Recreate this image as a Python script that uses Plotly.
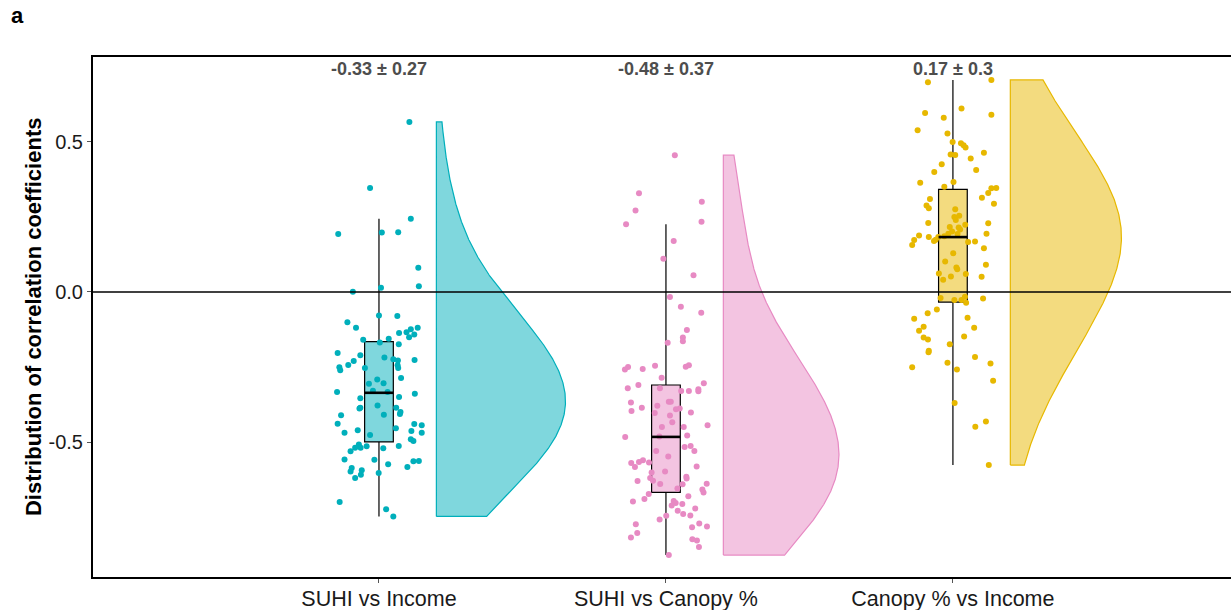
import numpy as np
import plotly.graph_objects as go

# ---- data -------------------------------------------------------------
categories = ["SUHI vs Income", "SUHI vs Canopy %", "Canopy % vs Income"]
summary_labels = ["-0.33 ± 0.27", "-0.48 ± 0.37", "0.17 ± 0.3"]

suhi_income = [
    0.567, 0.347, 0.193, 0.198, 0.199, 0.244, 0.081, 0.019, 0.014, 0.001,
    -0.078, -0.080, -0.101, -0.119, -0.119, -0.124, -0.137, -0.134, -0.142, -0.151,
    -0.159, -0.168, -0.156, -0.174, -0.203, -0.211, -0.218, -0.224, -0.228, -0.227,
    -0.230, -0.243, -0.251, -0.261, -0.253, -0.244, -0.253, -0.287, -0.292, -0.306,
    -0.304, -0.333, -0.329, -0.333, -0.339, -0.350, -0.354, -0.378, -0.386, -0.388,
    -0.386, -0.400, -0.407, -0.409, -0.411, -0.439, -0.440, -0.444, -0.454, -0.461,
    -0.463, -0.469, -0.469, -0.477, -0.491, -0.497, -0.513, -0.514, -0.508, -0.519,
    -0.519, -0.521, -0.531, -0.558, -0.559, -0.563, -0.564, -0.574, -0.583, -0.587,
    -0.598, -0.594, -0.609, -0.620, -0.603, -0.700, -0.724, -0.748,
]
jitter_income = [
    0.106, -0.031, -0.142, 0.010, 0.067, 0.111, 0.137, 0.139, 0.007, -0.091,
    0.000, 0.064, -0.110, -0.080, 0.135, 0.111, 0.070, 0.096, 0.123, 0.105,
    -0.055, 0.003, 0.034, 0.069, -0.144, -0.065, 0.019, 0.050, 0.066, 0.124,
    -0.088, -0.107, -0.138, -0.135, -0.049, 0.065, 0.067, 0.077, -0.006, -0.035,
    0.016, -0.146, -0.021, 0.030, 0.125, 0.070, -0.065, -0.005, -0.065, -0.068,
    0.060, 0.075, 0.073, 0.017, -0.132, -0.144, 0.123, 0.149, 0.059, -0.074,
    0.113, -0.120, 0.149, -0.031, 0.111, 0.120, 0.069, -0.043, -0.070, -0.064,
    -0.083, 0.015, -0.099, -0.120, -0.016, 0.139, 0.120, 0.032, 0.099, -0.095,
    -0.099, -0.060, -0.063, -0.083, -0.001, -0.137, 0.025, 0.050,
]

suhi_canopy = [
    0.456, 0.329, 0.301, 0.272, 0.226, 0.234, 0.170, 0.111, 0.056, -0.017,
    -0.049, -0.069, -0.127, -0.152, -0.164, -0.169, -0.250, -0.258, -0.257, -0.246,
    -0.249, -0.244, -0.286, -0.321, -0.310, -0.321, -0.330, -0.330, -0.324, -0.331,
    -0.304, -0.368, -0.366, -0.366, -0.379, -0.386, -0.388, -0.391, -0.397, -0.403,
    -0.402, -0.412, -0.434, -0.444, -0.450, -0.450, -0.478, -0.483, -0.482, -0.517,
    -0.513, -0.530, -0.530, -0.548, -0.561, -0.567, -0.570, -0.568, -0.583, -0.582,
    -0.598, -0.620, -0.629, -0.630, -0.616, -0.622, -0.640, -0.641, -0.639, -0.658,
    -0.668, -0.673, -0.681, -0.698, -0.697, -0.703, -0.707, -0.722, -0.729, -0.740,
    -0.746, -0.758, -0.772, -0.774, -0.782, -0.784, -0.803, -0.818, -0.824, -0.828,
    -0.850, -0.877, -0.602, -0.655, -0.690, -0.712, -0.745,
]
jitter_canopy = [
    0.031, -0.094, 0.125, -0.106, -0.139, 0.124, 0.027, -0.009, 0.096, 0.014,
    0.052, 0.123, 0.073, 0.059, 0.059, 0.006, -0.132, -0.143, -0.081, -0.038,
    0.069, 0.080, -0.015, -0.133, -0.096, -0.021, 0.053, 0.080, 0.113, 0.113,
    0.132, -0.122, 0.010, 0.017, -0.030, -0.084, 0.048, 0.035, -0.120, -0.039,
    0.087, 0.014, 0.022, 0.145, -0.014, 0.062, 0.074, -0.142, -0.023, 0.065,
    0.086, 0.099, -0.034, 0.008, -0.080, -0.094, -0.121, -0.059, -0.108, 0.107,
    -0.003, -0.055, -0.045, -0.099, 0.071, 0.072, -0.020, 0.058, 0.142, 0.127,
    0.131, -0.060, 0.078, -0.115, 0.027, 0.034, 0.057, 0.102, 0.041, 0.060,
    0.001, -0.022, 0.116, -0.105, 0.143, 0.091, -0.100, -0.122, 0.092, 0.108,
    0.115, 0.010, -0.050, 0.040, -0.075, 0.020, 0.085,
]

canopy_income = [
    0.699, 0.707, 0.612, 0.597, 0.591, 0.581, 0.539, 0.528, 0.500, 0.496,
    0.489, 0.482, 0.464, 0.458, 0.457, 0.426, 0.407, 0.400, 0.367, 0.364,
    0.351, 0.346, 0.347, 0.330, 0.314, 0.310, 0.294, 0.288, 0.279, 0.276,
    0.254, 0.250, 0.230, 0.229, 0.224, 0.217, 0.208, 0.202, 0.194, 0.193,
    0.194, 0.188, 0.183, 0.183, 0.174, 0.170, 0.173, 0.167, 0.168, 0.157,
    0.146, 0.129, 0.102, 0.091, 0.082, 0.076, 0.060, 0.062, 0.052, 0.051,
    0.041, -0.020, -0.027, -0.027, -0.016, -0.036, -0.022, -0.058, -0.071, -0.089,
    -0.086, -0.116, -0.129, -0.119, -0.152, -0.158, -0.148, -0.174, -0.196, -0.201,
    -0.217, -0.251, -0.236, -0.258, -0.238, -0.296, -0.370, -0.432, -0.449, -0.577,
    0.215, 0.186, 0.240, 0.445,
]
jitter_canopy_income = [
    -0.087, 0.134, 0.030, -0.097, 0.134, -0.032, -0.123, -0.019, -0.001, 0.028,
    0.037, 0.044, 0.108, -0.008, 0.008, -0.039, 0.081, -0.065, 0.002, -0.114,
    -0.030, 0.134, 0.151, 0.123, 0.101, -0.080, 0.143, -0.092, -0.084, 0.008,
    0.022, 0.005, -0.086, 0.123, 0.043, -0.011, 0.025, -0.003, -0.016, 0.016,
    0.117, -0.118, -0.084, -0.051, -0.060, -0.066, -0.135, 0.053, 0.077, -0.142,
    0.108, 0.001, -0.027, 0.115, 0.012, 0.015, 0.045, -0.049, -0.007, 0.100,
    -0.034, -0.043, 0.005, 0.030, 0.042, 0.046, 0.105, -0.056, -0.088, -0.135,
    0.051, -0.102, -0.118, 0.074, -0.102, -0.087, 0.039, -0.011, -0.084, -0.085,
    0.077, -0.142, -0.019, 0.014, 0.131, 0.140, 0.006, 0.115, 0.078, 0.125,
    0.020, -0.030, 0.010, 0.062,
]

groups = [suhi_income, suhi_canopy, canopy_income]
jitters = [jitter_income, jitter_canopy, jitter_canopy_income]
colors = ["#00AFBB", "#E78AC3", "#E7B800"]


def rgba(hex_color, alpha):
    h = hex_color.lstrip("#")
    r, g, b = (int(h[i:i + 2], 16) for i in (0, 2, 4))
    return f"rgba({r},{g},{b},{alpha})"


def bw_nrd0(x):
    x = np.asarray(x)
    sd = x.std(ddof=1)
    iqr = np.subtract(*np.percentile(x, [75, 25]))
    lo = min(sd, iqr / 1.34)
    return 0.9 * lo * len(x) ** (-0.2)


def kde(x, grid, adjust=1.0):
    x = np.asarray(x)
    bw = bw_nrd0(x) * adjust
    z = (grid[:, None] - x[None, :]) / bw
    return np.exp(-0.5 * z ** 2).sum(axis=1) / (len(x) * bw * np.sqrt(2 * np.pi))


FONT = "Liberation Sans, Arial, sans-serif"
positions = [1, 2, 3]
violin_nudge = 0.2
violin_halfwidth = 0.45
box_width = 0.1
bw_adjust = 2.2

# densities over each group's own range (trimmed), scaled by common maximum
grids, dens = [], []
for vals in groups:
    g = np.linspace(min(vals), max(vals), 512)
    grids.append(g)
    dens.append(kde(vals, g, bw_adjust))
dmax = max(d.max() for d in dens)

fig = go.Figure()

# half violins
for pos, g, d, col in zip(positions, grids, dens, colors):
    x0 = pos + violin_nudge
    xs = np.concatenate([[x0], x0 + d / dmax * violin_halfwidth, [x0, x0]])
    ys = np.concatenate([[g[0]], g, [g[-1], g[0]]])
    fig.add_trace(go.Scatter(
        x=xs, y=ys, mode="lines", fill="toself",
        fillcolor=rgba(col, 0.5), line=dict(color=col, width=1.2),
        hoverinfo="skip", showlegend=False,
    ))

# jittered raw points
for pos, vals, jit, col in zip(positions, groups, jitters, colors):
    fig.add_trace(go.Scatter(
        x=[pos + j for j in jit], y=vals, mode="markers",
        marker=dict(color=col, size=6, line=dict(width=0)),
        showlegend=False,
    ))

# box plots (Tukey whiskers, no outlier markers)
for pos, vals, col in zip(positions, groups, colors):
    v = np.asarray(vals)
    q1, med, q3 = np.percentile(v, [25, 50, 75])
    iqr = q3 - q1
    upper = v[v <= q3 + 1.5 * iqr].max()
    lower = v[v >= q1 - 1.5 * iqr].min()
    fig.add_trace(go.Box(
        x=[pos], q1=[q1], median=[med], q3=[q3],
        lowerfence=[lower], upperfence=[upper],
        width=box_width, whiskerwidth=0,
        fillcolor=rgba(col, 0.5), line=dict(color="black", width=1.2),
        boxpoints=False, showlegend=False, hoverinfo="skip",
    ))
    fig.add_trace(go.Scatter(
        x=[pos - box_width / 2, pos + box_width / 2], y=[med, med],
        mode="lines", line=dict(color="black", width=2.6),
        showlegend=False, hoverinfo="skip",
    ))

# reference line at zero
fig.add_shape(type="line", xref="paper", x0=0, x1=1, yref="y", y0=0, y1=0,
              line=dict(color="black", width=1.3), layer="above")

# mean ± sd labels
for pos, txt in zip(positions, summary_labels):
    fig.add_annotation(x=pos, y=0.743, text=txt, showarrow=False,
                       xanchor="center", yanchor="middle",
                       font=dict(family=FONT, size=18, color="#4D4D4D", weight="bold"))

# y-axis title and panel tag
fig.add_annotation(xref="paper", yref="paper", x=-0.0527, y=0.5,
                   text="Distribution of correlation coefficients", textangle=-90,
                   showarrow=False, xanchor="center", yanchor="middle",
                   font=dict(family=FONT, size=22, color="black", weight="bold"))
fig.add_annotation(xref="paper", yref="paper", x=-0.0738, y=1.079, text="a",
                   showarrow=False, xanchor="left", yanchor="middle",
                   font=dict(family=FONT, size=22, color="black", weight="bold"))

fig.update_layout(
    width=1231, height=610,
    margin=dict(l=93, r=0, t=57, b=33),
    paper_bgcolor="white", plot_bgcolor="white",
    font=dict(family=FONT, color="black"),
    showlegend=False,
    xaxis=dict(
        range=[0.0035, 3.969], tickmode="array", tickvals=positions, ticktext=categories,
        showgrid=False, zeroline=False, showline=True, linecolor="black", linewidth=2,
        mirror=True, ticks="outside", ticklen=4, tickcolor="#555", tickwidth=1,
        ticklabelstandoff=-3,
        tickfont=dict(family=FONT, size=21.5, color="#1a1a1a"),
    ),
    yaxis=dict(
        range=[-0.95, 0.7833], tickmode="array", tickvals=[-0.5, 0.0, 0.5],
        ticktext=["-0.5", "0.0", "0.5"],
        showgrid=False, zeroline=False, showline=True, linecolor="black", linewidth=2,
        mirror=False, ticks="outside", ticklen=4, tickcolor="#555", tickwidth=1,
        tickfont=dict(family=FONT, size=20, color="#1a1a1a"),
    ),
)

fig.write_html("out.html")
